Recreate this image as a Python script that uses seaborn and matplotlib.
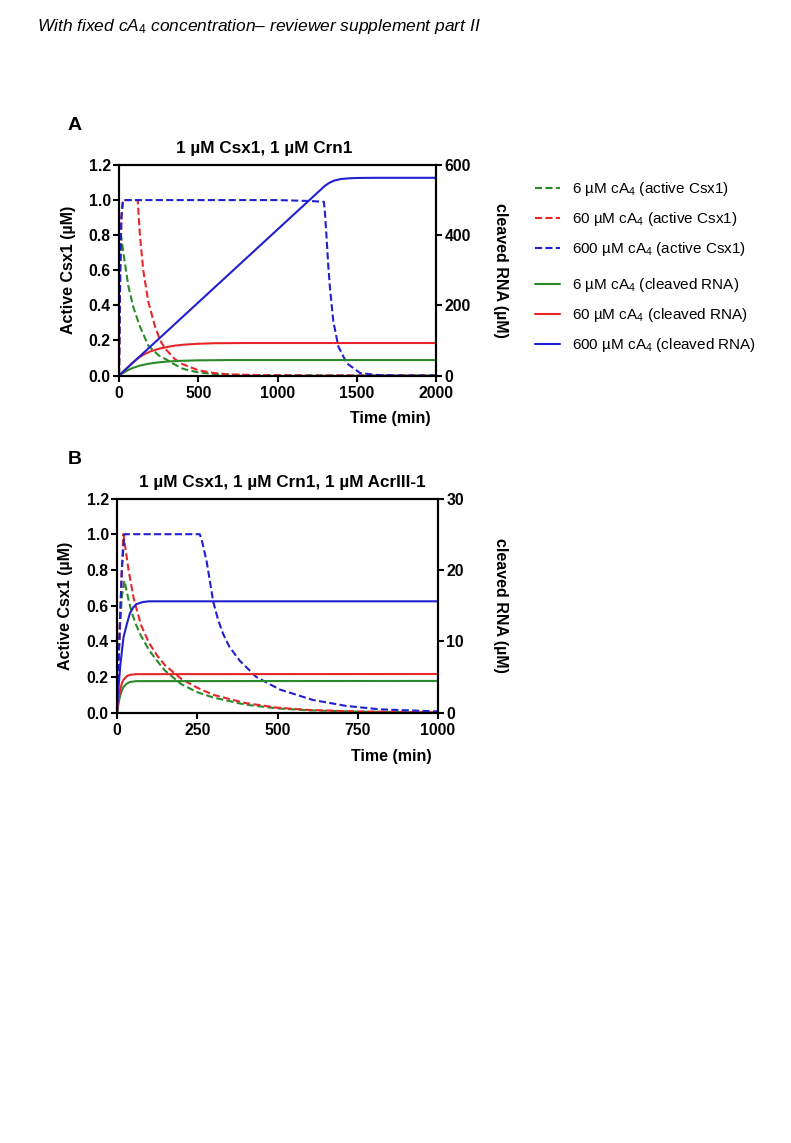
import numpy as np
import pandas as pd
import seaborn as sns
import matplotlib
matplotlib.use("Agg")
import matplotlib.pyplot as plt
from matplotlib.lines import Line2D
from matplotlib.ticker import FormatStrFormatter

# ---------------- data ----------------
# Panel A: 1 uM Csx1, 1 uM Crn1  (active Csx1 in uM, left axis)
a_t_green_act = [0, 4, 10, 20, 34, 59, 90, 132, 185, 250, 309, 332, 400, 437, 500, 606, 700, 850, 1000, 1500, 2000]
a_v_green_act = [0, 0.55, 0.82, 0.75, 0.66, 0.51, 0.39, 0.28, 0.17, 0.115, 0.086, 0.072, 0.04, 0.03, 0.018, 0.008, 0.004, 0.002, 0.001, 0, 0]
a_t_red_act = [0, 8, 15, 25, 60, 118, 132, 153, 185, 227, 260, 290, 350, 400, 500, 600, 700, 900, 1200, 2000]
a_v_red_act = [0, 0.6, 0.9, 1.0, 1.0, 1.0, 0.8, 0.6, 0.42, 0.28, 0.2, 0.155, 0.095, 0.065, 0.03, 0.014, 0.006, 0.002, 0, 0]
a_t_blue_act = [0, 8, 15, 25, 500, 1000, 1200, 1293, 1300, 1310, 1320, 1331, 1352, 1384, 1437, 1521, 1626, 1750, 2000]
a_v_blue_act = [0, 0.6, 0.9, 1.0, 1.0, 1.0, 0.995, 0.99, 0.92, 0.78, 0.63, 0.50, 0.31, 0.165, 0.07, 0.014, 0.003, 0.0005, 0]
# cleaved RNA (uM, right axis)
a_t_green_rna = [0, 20, 40, 60, 90, 130, 185, 250, 310, 400, 500, 700, 2000]
a_v_green_rna = [0, 5.5, 11, 16, 22, 28, 33.5, 37.5, 40, 42, 43.2, 44, 44]
a_t_red_rna = [0, 50, 100, 125, 150, 175, 200, 250, 300, 350, 400, 500, 600, 800, 2000]
a_v_red_rna = [0, 21, 42, 51, 58, 64, 69, 76, 81, 85, 87.5, 90.5, 92, 92.6, 92.6]
a_t_blue_rna = [0, 1300, 1330, 1360, 1400, 1450, 1500, 1600, 2000]
a_v_blue_rna = [0, 541, 550, 556, 560, 562, 563, 563.5, 563.5]

# Panel B: 1 uM Csx1, 1 uM Crn1, 1 uM AcrIII-1
b_t_green_act = [0, 5, 10, 15, 23, 35, 46, 60, 75, 100, 125, 150, 200, 250, 300, 400, 500, 600, 750, 1000]
b_v_green_act = [0, 0.3, 0.5, 0.65, 0.74, 0.64, 0.56, 0.49, 0.43, 0.35, 0.29, 0.235, 0.16, 0.115, 0.085, 0.045, 0.024, 0.013, 0.006, 0.001]
b_t_red_act = [0, 5, 10, 15, 20, 36, 52, 75, 100, 125, 150, 200, 250, 300, 400, 500, 600, 750, 1000]
b_v_red_act = [0, 0.3, 0.55, 0.8, 1.0, 0.8, 0.64, 0.49, 0.39, 0.32, 0.265, 0.19, 0.14, 0.10, 0.054, 0.028, 0.015, 0.007, 0.002]
b_t_blue_act = [0, 5, 10, 15, 23, 100, 200, 258, 265, 279, 290, 300, 315, 331, 350, 383, 434, 507, 611, 714, 818, 1000]
b_v_blue_act = [0, 0.3, 0.55, 0.8, 1.0, 1.0, 1.0, 1.0, 0.96, 0.85, 0.73, 0.62, 0.52, 0.44, 0.37, 0.29, 0.20, 0.13, 0.071, 0.038, 0.019, 0.007]
b_t_green_rna = [0, 5, 10, 15, 20, 30, 40, 60, 1000]
b_v_green_rna = [0, 1.4, 2.4, 3.1, 3.6, 4.05, 4.3, 4.42, 4.45]
b_t_red_rna = [0, 5, 10, 15, 20, 30, 40, 60, 1000]
b_v_red_rna = [0, 1.8, 3.2, 4.1, 4.6, 5.1, 5.3, 5.4, 5.42]
b_t_blue_rna = [0, 3, 10, 20, 30, 40, 50, 60, 80, 100, 1000]
b_v_blue_rna = [0, 2.5, 6.5, 10.5, 12.3, 13.9, 14.7, 15.2, 15.5, 15.6, 15.6]

legend_labels = [
    "6 µM cA$_4$ (active Csx1)",
    "60 µM cA$_4$ (active Csx1)",
    "600 µM cA$_4$ (active Csx1)",
    "6 µM cA$_4$ (cleaved RNA)",
    "60 µM cA$_4$ (cleaved RNA)",
    "600 µM cA$_4$ (cleaved RNA)",
]
a_xticks = [0, 500, 1000, 1500, 2000]
b_xticks = [0, 250, 500, 750, 1000]
left_yticks = [0, 0.2, 0.4, 0.6, 0.8, 1.0, 1.2]
a_rticks = [0, 200, 400, 600]
b_rticks = [0, 10, 20, 30]

# ---------------- style ----------------
sns.set_theme(style="ticks")
plt.rcParams["font.family"] = ["Liberation Sans", "DejaVu Sans"]
plt.rcParams["font.weight"] = "bold"
plt.rcParams["text.color"] = "black"
plt.rcParams["axes.labelcolor"] = "black"
plt.rcParams["xtick.color"] = "black"
plt.rcParams["ytick.color"] = "black"
plt.rcParams["mathtext.fontset"] = "custom"
plt.rcParams["mathtext.rm"] = "Liberation Sans:normal"
plt.rcParams["mathtext.it"] = "Liberation Sans:italic:normal"
plt.rcParams["mathtext.bf"] = "Liberation Sans:bold"
plt.rcParams["mathtext.default"] = "regular"
plt.rcParams["axes.linewidth"] = 1.5

GREEN = "#2a8a2a"
RED = "#e8262a"
BLUE = "#2020d0"
LW = 1.5
DASH = (0, (3.4, 1.6))

W, H = 791, 1143
fig = plt.figure(figsize=(W / 100, H / 100), dpi=100)


def fx(px):
    return px / W


def fy(py):
    return 1 - py / H


def panel(rect, series_act, series_rna, xmax, xticks, rmax, rticks,
          title, title_xy, letter, letter_xy, ylab_x, rlab_x, xlab_y):
    ax = fig.add_axes(rect)
    ax2 = ax.twinx()
    for (t, v), c in zip(series_act, [GREEN, RED, BLUE]):
        sns.lineplot(x=t, y=v, ax=ax, color=c, linewidth=LW, linestyle=DASH,
                     estimator=None, sort=False, legend=False)
    for (t, v), c in zip(series_rna, [GREEN, RED, BLUE]):
        sns.lineplot(x=t, y=v, ax=ax2, color=c, linewidth=LW,
                     estimator=None, sort=False, legend=False)
    ax.set_xlim(0, xmax)
    ax.set_ylim(0, 1.2)
    ax2.set_ylim(0, rmax)
    ax.set_xticks(xticks)
    ax.set_yticks(left_yticks)
    ax2.set_yticks(rticks)
    ax.yaxis.set_major_formatter(FormatStrFormatter("%.1f"))
    for a in (ax, ax2):
        a.tick_params(direction="out", length=4, width=1.5, labelsize=11.3,
                      pad=2, colors="black")
        for s in a.spines.values():
            s.set_linewidth(1.5)
            s.set_color("black")
            s.set_visible(True)
    ax.tick_params(axis="x", pad=3.5)
    ax.set_ylabel("Active Csx1 (µM)", fontsize=11.5, fontweight="bold")
    ax.yaxis.set_label_coords(ylab_x, 0.5)
    ax.yaxis.label.set_va("center")
    ax2.set_ylabel("cleaved RNA (µM)", fontsize=11.5, fontweight="bold",
                   rotation=270)
    ax2.yaxis.set_label_coords(rlab_x, 0.5)
    ax2.yaxis.label.set_va("center")
    ax.set_xlabel("Time (min)", fontsize=11.5, fontweight="bold")
    ax.xaxis.set_label_coords(0.855, xlab_y)
    ax.xaxis.label.set_va("center")
    fig.text(fx(title_xy[0]), fy(title_xy[1]), title, ha="center",
             va="center", fontsize=12.3, fontweight="bold")
    fig.text(fx(letter_xy[0]), fy(letter_xy[1]), letter, ha="center",
             va="center", fontsize=14, fontweight="bold")
    return ax, ax2


panel([fx(119), fy(375.5), 317 / W, 210.5 / H],
      [(a_t_green_act, a_v_green_act), (a_t_red_act, a_v_red_act),
       (a_t_blue_act, a_v_blue_act)],
      [(a_t_green_rna, a_v_green_rna), (a_t_red_rna, a_v_red_rna),
       (a_t_blue_rna, a_v_blue_rna)],
      2000, a_xticks, 600, a_rticks,
      "1 µM Csx1, 1 µM Crn1", (264, 148), "A", (75, 125),
      (68 - 119) / 317, (500 - 119) / 317, (375.5 - 418) / 210.5)

panel([fx(117), fy(712.7), 321 / W, 214.2 / H],
      [(b_t_green_act, b_v_green_act), (b_t_red_act, b_v_red_act),
       (b_t_blue_act, b_v_blue_act)],
      [(b_t_green_rna, b_v_green_rna), (b_t_red_rna, b_v_red_rna),
       (b_t_blue_rna, b_v_blue_rna)],
      1000, b_xticks, 30, b_rticks,
      "1 µM Csx1, 1 µM Crn1, 1 µM AcrIII-1", (282, 482), "B", (75, 460),
      (65 - 117) / 321, (501 - 117) / 321, (712.7 - 756) / 214.2)

# legends
colors = [GREEN, RED, BLUE]
h_dash = [Line2D([], [], color=c, lw=LW, ls=DASH) for c in colors]
h_solid = [Line2D([], [], color=c, lw=LW) for c in colors]
for handles, labels, ytop in [(h_dash, legend_labels[:3], 180),
                              (h_solid, legend_labels[3:], 276)]:
    fig.legend(handles, labels, loc="upper left",
               bbox_to_anchor=(fx(535), fy(ytop)), frameon=False,
               prop={"size": 11, "weight": "normal"}, handlelength=1.64,
               handletextpad=0.8, labelspacing=0.8, borderpad=0,
               borderaxespad=0, labelcolor="black")

fig.text(fx(37), fy(27),
         r"With fixed cA$_{\mathit{4}}$ concentration– reviewer supplement part II",
         ha="left", va="center", fontsize=12.5, fontstyle="italic",
         fontweight="normal")

fig.savefig("out.png", dpi=100)
